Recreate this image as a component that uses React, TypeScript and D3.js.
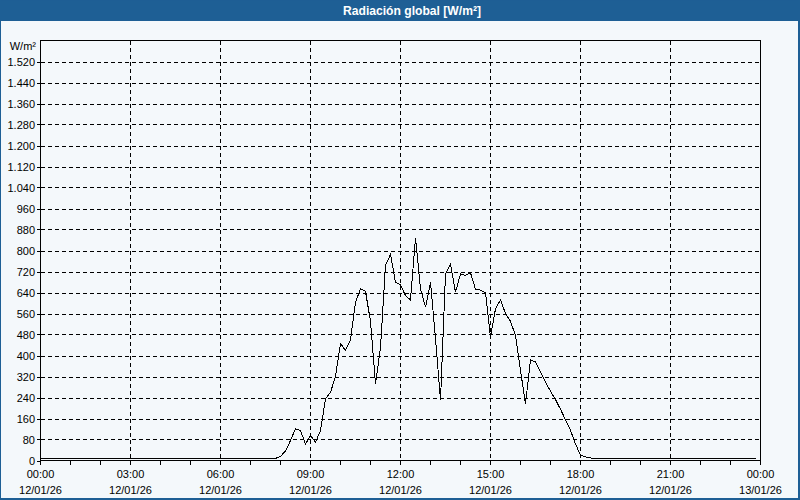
import * as d3 from "d3";

const TITLE = "Radiación global [W/m²]";
const UNIT = "W/m²";
const DAY_START = new Date(2026, 0, 12, 0, 0);
const DAY_END = new Date(2026, 0, 13, 0, 0);
const STEP_MINUTES = 10;

// one reading every 10 minutes starting at 00:00 (144 readings)
const RADIATION = [
  6, 6, 6, 6, 6, 6, 6, 6, 6, 6, 6, 6, // 00:00
  6, 6, 6, 6, 6, 6, 6, 6, 6, 6, 6, 6, // 02:00
  6, 6, 6, 6, 6, 6, 6, 6, 6, 6, 6, 6, // 04:00
  6, 6, 6, 6, 6, 6, 6, 6, 6, 6, 6, 8, // 06:00
  16, 36, 76, 121, 114, 63, 95, 70, 114, 235, 260, 320, // 08:00
  446, 419, 460, 603, 654, 644, 530, 292, 430, 743, 785, 679, // 10:00
  669, 628, 612, 849, 654, 584, 679, 465, 229, 711, 748, 641, // 12:00
  711, 705, 715, 652, 649, 639, 471, 578, 612, 560, 530, 476, // 14:00
  343, 216, 383, 376, 336, 298, 264, 232, 195, 155, 115, 63, // 16:00
  20, 14, 10, 7, 6, 6, 6, 6, 6, 6, 6, 6, // 18:00
  6, 6, 6, 6, 6, 6, 6, 6, 6, 6, 6, 6, // 20:00
  6, 6, 6, 6, 6, 6, 6, 6, 6, 6, 6, 6, // 22:00
];

const Y_TICKS = [0, 80, 160, 240, 320, 400, 480, 560, 640, 720, 800, 880, 960, 1040, 1120, 1200, 1280, 1360, 1440, 1520];
const Y_MAX = 1600;

const W = 800;
const H = 500;
const plot = { left: 40.5, right: 760.5, top: 40.5, bottom: 460.5 };

const BLUE = "#1e5f95";
const BG = "#f4f8fb";
const FONT = "'Liberation Sans', Arial, sans-serif";

const esLocale = d3.formatLocale({ decimal: ",", thousands: ".", grouping: [3], currency: ["", " €"] });
const fmtY = esLocale.format(",d");
const fmtHour = d3.timeFormat("%H:%M");
const fmtDate = d3.timeFormat("%d/%m/%y");

export default function App() {
  const x = d3.scaleTime().domain([DAY_START, DAY_END]).range([plot.left, plot.right]);
  const y = d3.scaleLinear().domain([0, Y_MAX]).range([plot.bottom, plot.top]);

  const points = RADIATION.map((v, i) => ({
    t: d3.timeMinute.offset(DAY_START, i * STEP_MINUTES),
    v,
  }));

  const line = d3
    .line<{ t: Date; v: number }>()
    .x((d) => x(d.t))
    .y((d) => y(d.v));

  const majorTicks = x.ticks(d3.timeHour.every(3)!);
  const minorTicks = x.ticks(d3.timeHour.every(1)!);

  return (
    <svg
      width={W}
      height={H}
      style={{ position: "absolute", left: 0, top: 0, display: "block" }}
    >
      <rect x={0} y={0} width={W} height={H} fill={BG} />
      {/* title bar */}
      <rect x={0} y={0} width={W} height={21} fill={BLUE} />
      <text
        x={412}
        y={14.5}
        textAnchor="middle"
        fill="#ffffff"
        fontFamily={FONT}
        fontWeight="bold"
        fontSize={12}
        textLength={138}
        lengthAdjust="spacingAndGlyphs"
      >
        {TITLE}
      </text>
      {/* window border */}
      <rect x={0.5} y={0} width={W - 1.5} height={H - 1} fill="none" stroke={BLUE} strokeWidth={1} />
      <rect x={798} y={0} width={2} height={H} fill={BLUE} />
      <rect x={0} y={498} width={W} height={2} fill={BLUE} />

      {/* horizontal grid + y labels */}
      <g shapeRendering="crispEdges">
        {Y_TICKS.filter((t) => t > 0).map((t) => (
          <line
            key={"hg" + t}
            x1={plot.left}
            x2={plot.right}
            y1={Math.round(y(t)) + 0.5}
            y2={Math.round(y(t)) + 0.5}
            stroke="#000"
            strokeDasharray="4,3"
          />
        ))}
        {majorTicks.slice(1, -1).map((t) => (
          <line
            key={"vg" + t.getTime()}
            x1={x(t)}
            x2={x(t)}
            y1={plot.top}
            y2={plot.bottom}
            stroke="#000"
            strokeDasharray="4,3"
          />
        ))}
        {Y_TICKS.map((t) => (
          <line
            key={"yt" + t}
            x1={plot.left - 4}
            x2={plot.left}
            y1={Math.round(y(t)) + 0.5}
            y2={Math.round(y(t)) + 0.5}
            stroke="#000"
          />
        ))}
        {minorTicks.map((t) => (
          <line
            key={"xt" + t.getTime()}
            x1={x(t)}
            x2={x(t)}
            y1={plot.bottom}
            y2={plot.bottom + 4}
            stroke="#000"
          />
        ))}
        {/* frame */}
        <rect
          x={plot.left}
          y={plot.top}
          width={plot.right - plot.left}
          height={plot.bottom - plot.top}
          fill="none"
          stroke="#000"
        />
      </g>

      <g fontFamily={FONT} fontSize={11} fill="#000">
        <text x={36} y={50} textAnchor="end">
          {UNIT}
        </text>
        {Y_TICKS.map((t) => (
          <text key={"yl" + t} x={35} y={y(t) + 4.5} textAnchor="end">
            {fmtY(t)}
          </text>
        ))}
        {majorTicks.map((t) => (
          <g key={"xl" + t.getTime()}>
            <text x={x(t)} y={478} textAnchor="middle">
              {fmtHour(t)}
            </text>
            <text x={x(t)} y={494} textAnchor="middle">
              {fmtDate(t)}
            </text>
          </g>
        ))}
      </g>

      <path
        d={line(points) ?? ""}
        fill="none"
        stroke="#000"
        strokeWidth={1}
        shapeRendering="crispEdges"
      />
    </svg>
  );
}
